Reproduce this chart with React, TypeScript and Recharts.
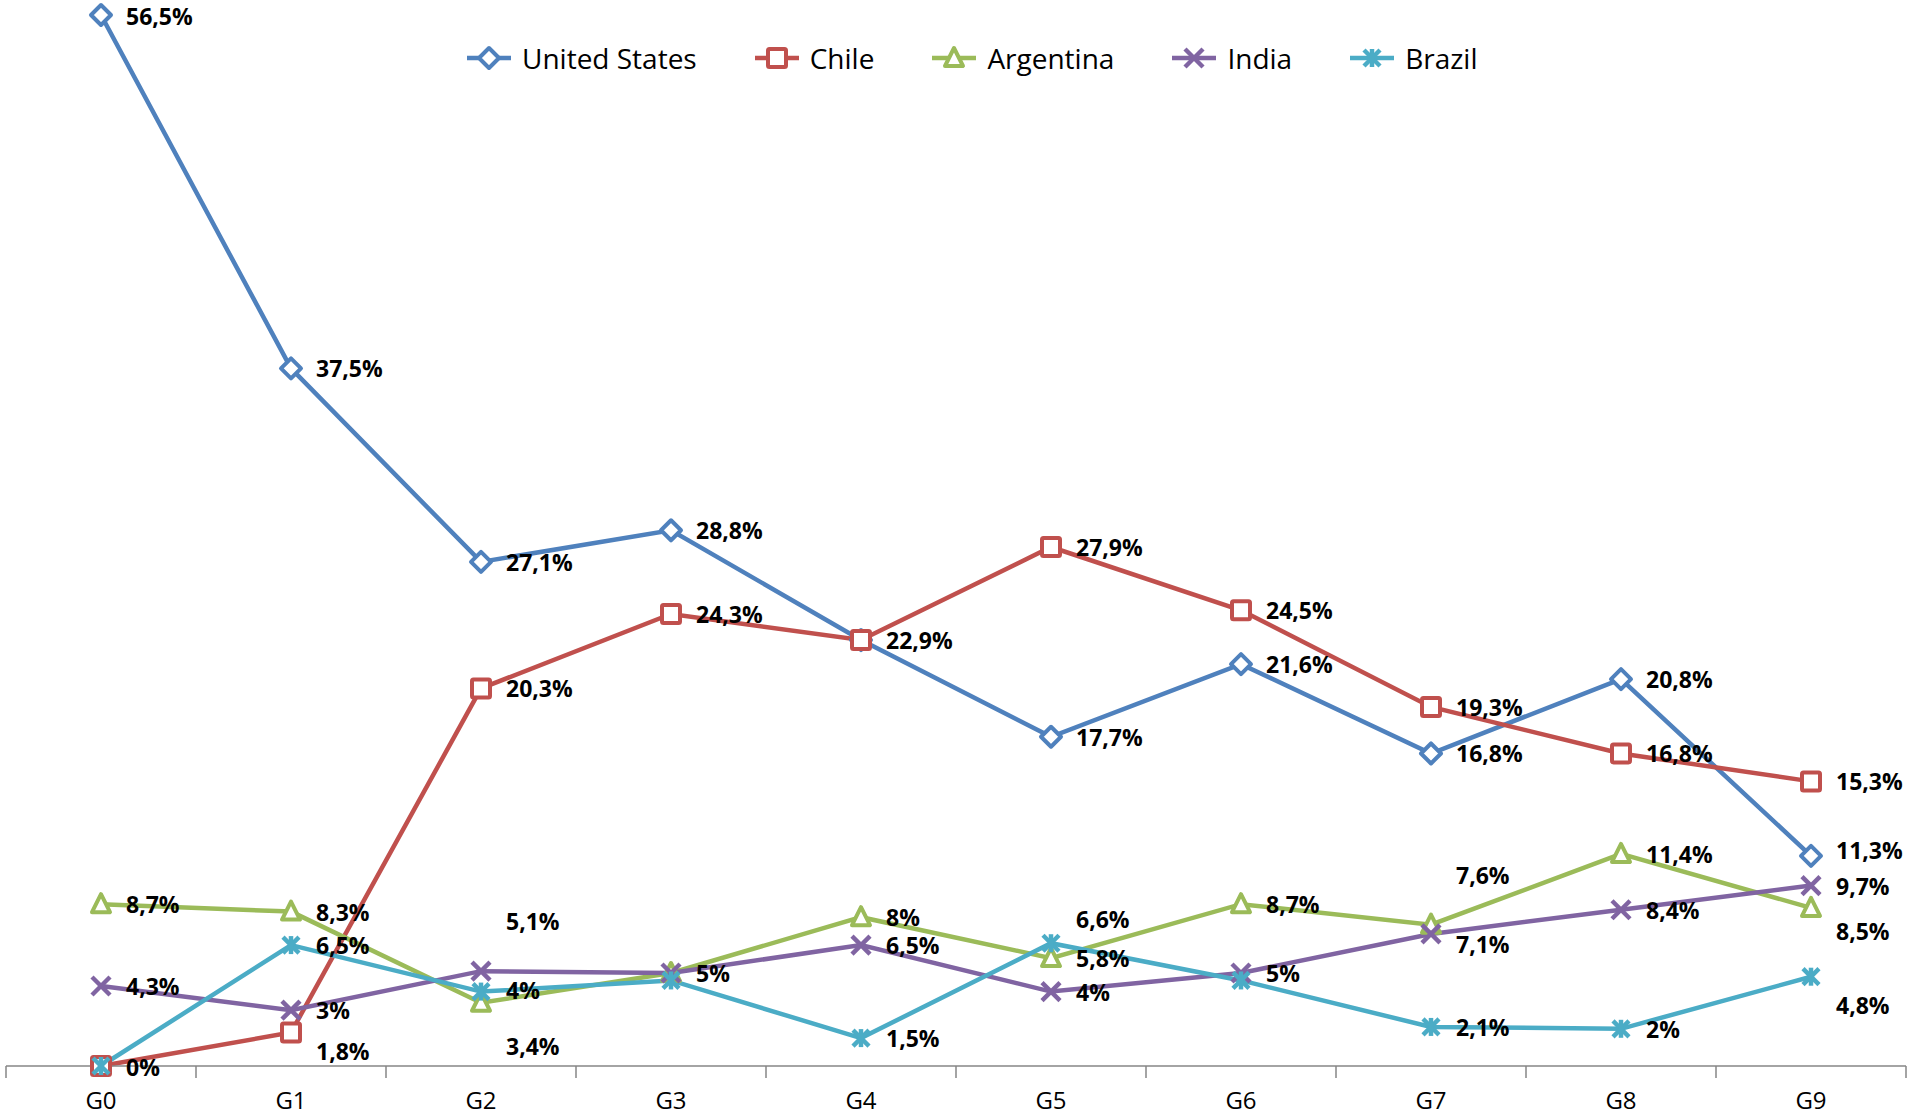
import React from 'react';
import { LineChart, Line, XAxis, YAxis } from 'recharts';

const categories = ['G0', 'G1', 'G2', 'G3', 'G4', 'G5', 'G6', 'G7', 'G8', 'G9'];
const unitedStates = [56.5, 37.5, 27.1, 28.8, 22.9, 17.7, 21.6, 16.8, 20.8, 11.3];
const chile = [0, 1.8, 20.3, 24.3, 22.9, 27.9, 24.5, 19.3, 16.8, 15.3];
const argentina = [8.7, 8.3, 3.4, 5, 8, 5.8, 8.7, 7.6, 11.4, 8.5];
const india = [4.3, 3, 5.1, 5, 6.5, 4, 5, 7.1, 8.4, 9.7];
const brazil = [0, 6.5, 4, 4.6, 1.5, 6.6, 4.6, 2.1, 2, 4.8];

// vertical label shift per point (null = label hidden)
const usLabelShift = [1, 0, 0, 0, null, 0, 0, 0, 0, -6];
const chileLabelShift = [1, 18, 0, 0, 0, 0, 0, 0, 0, 0];
const argentinaLabelShift = [0, 0, 43, null, 0, 0, 0, -50, 0, 23];
const indiaLabelShift = [0, 0, -50, 0, 0, 0, 0, 10, 0, 0];
const brazilLabelShift = [null, 0, -2, null, 0, -24, null, 0, 0, 28];

const W = 1909;
const H = 1115;
const PLOT_LEFT = 6;
const PLOT_RIGHT = 1906;
const BAND = (PLOT_RIGHT - PLOT_LEFT) / categories.length;
const FONT = '"Open Sans", sans-serif';

type Shape = 'diamond' | 'square' | 'triangle' | 'x' | 'star';

const series: { key: string; name: string; color: string; shape: Shape; values: number[]; shifts: (number | null)[] }[] = [
  { key: 'us', name: 'United States', color: '#4F81BD', shape: 'diamond', values: unitedStates, shifts: usLabelShift },
  { key: 'chile', name: 'Chile', color: '#C0504D', shape: 'square', values: chile, shifts: chileLabelShift },
  { key: 'argentina', name: 'Argentina', color: '#9BBB59', shape: 'triangle', values: argentina, shifts: argentinaLabelShift },
  { key: 'india', name: 'India', color: '#8064A2', shape: 'x', values: india, shifts: indiaLabelShift },
  { key: 'brazil', name: 'Brazil', color: '#4BACC6', shape: 'star', values: brazil, shifts: brazilLabelShift },
];

const data = categories.map((c, i) => {
  const row: Record<string, string | number> = { cat: c };
  series.forEach((s) => {
    row[s.key] = s.values[i];
  });
  return row;
});

function Marker({ cx, cy, shape, color }: { cx: number; cy: number; shape: Shape; color: string }) {
  const sw = 4;
  if (shape === 'diamond') {
    const r = 10;
    return <polygon points={`${cx},${cy - r} ${cx + r},${cy} ${cx},${cy + r} ${cx - r},${cy}`} fill="#fff" stroke={color} strokeWidth={sw} strokeLinejoin="round" />;
  }
  if (shape === 'square') {
    const r = 9;
    return <rect x={cx - r} y={cy - r} width={2 * r} height={2 * r} fill="#fff" stroke={color} strokeWidth={sw} rx={1.5} />;
  }
  if (shape === 'triangle') {
    const r = 9;
    return <polygon points={`${cx},${cy - r - 1} ${cx + r},${cy + r - 1} ${cx - r},${cy + r - 1}`} fill="#fff" stroke={color} strokeWidth={sw} strokeLinejoin="round" />;
  }
  if (shape === 'x') {
    const r = 9;
    return (
      <g stroke={color} strokeWidth={4.5}>
        <line x1={cx - r} y1={cy - r} x2={cx + r} y2={cy + r} />
        <line x1={cx - r} y1={cy + r} x2={cx + r} y2={cy - r} />
      </g>
    );
  }
  const r = 8;
  return (
    <g stroke={color} strokeWidth={4.5}>
      <line x1={cx - r} y1={cy - r} x2={cx + r} y2={cy + r} />
      <line x1={cx - r} y1={cy + r} x2={cx + r} y2={cy - r} />
      <line x1={cx} y1={cy - r - 1} x2={cx} y2={cy + r + 1} />
    </g>
  );
}

const fmt = (v: number) => `${String(v).replace('.', ',')}%`;

function makeDot(s: (typeof series)[number]) {
  return (props: any) => {
    const { cx, cy, index } = props;
    if (cx == null || cy == null) return <g key={`${s.key}-${index}`} />;
    const shift = s.shifts[index];
    return (
      <g key={`${s.key}-${index}`}>
        <Marker cx={cx} cy={cy} shape={s.shape} color={s.color} />
        {shift !== null && shift !== undefined ? (
          <text x={cx + 25} y={cy + shift} dominantBaseline="central" fontFamily={FONT} fontWeight="bold" fontSize={23} fill="#000">
            {fmt(s.values[index])}
          </text>
        ) : null}
      </g>
    );
  };
}

function Tick(props: any) {
  const { x, y, payload, index } = props;
  const last = index === categories.length - 1;
  return (
    <g>
      <line x1={x - BAND / 2} y1={y - 8} x2={x - BAND / 2} y2={y + 4} stroke="#868686" strokeWidth={1.5} />
      {last ? <line x1={x + BAND / 2} y1={y - 8} x2={x + BAND / 2} y2={y + 4} stroke="#868686" strokeWidth={1.5} /> : null}
      <text x={x} y={y + 25} textAnchor="middle" dominantBaseline="central" fontFamily={FONT} fontSize={24} fill="#000">
        {payload.value}
      </text>
    </g>
  );
}

function LegendIcon({ shape, color }: { shape: Shape; color: string }) {
  return (
    <svg width={46} height={26} style={{ display: 'block' }}>
      <line x1={1} y1={13} x2={45} y2={13} stroke={color} strokeWidth={4.5} />
      <Marker cx={23} cy={13} shape={shape} color={color} />
    </svg>
  );
}

export default function App() {
  return (
    <div style={{ position: 'absolute', left: 0, top: 0, width: W, height: H, background: '#fff' }}>
      <LineChart width={W} height={H} data={data} margin={{ top: 15, right: W - PLOT_RIGHT, left: PLOT_LEFT, bottom: 0 }}>
        <XAxis
          dataKey="cat"
          scale="band"
          height={49}
          axisLine={{ stroke: '#868686', strokeWidth: 1.5 }}
          tickLine={false}
          tick={<Tick />}
          interval={0}
        />
        <YAxis hide domain={[0, 56.5]} />
        {series.map((s) => (
          <Line
            key={s.key}
            dataKey={s.key}
            name={s.name}
            stroke={s.color}
            strokeWidth={4.5}
            dot={makeDot(s)}
            activeDot={false}
            isAnimationActive={false}
          />
        ))}
      </LineChart>
      <div style={{ position: 'absolute', left: 466, top: 42, display: 'flex', alignItems: 'center', fontFamily: FONT, fontSize: 28, color: '#000' }}>
        {series.map((s) => (
          <div key={s.key} style={{ display: 'flex', alignItems: 'center', marginRight: 57 }}>
            <LegendIcon shape={s.shape} color={s.color} />
            <span style={{ marginLeft: 10, lineHeight: '32px' }}>{s.name}</span>
          </div>
        ))}
      </div>
    </div>
  );
}
